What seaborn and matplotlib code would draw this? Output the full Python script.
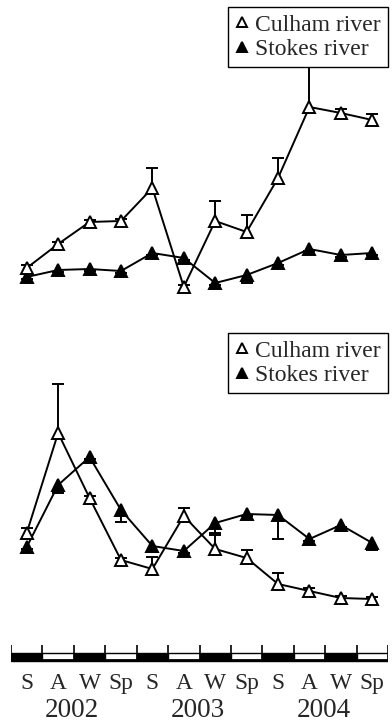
import numpy as np
import pandas as pd
import matplotlib
matplotlib.use("Agg")
import matplotlib.pyplot as plt
from matplotlib.lines import Line2D
import seaborn as sns

# ---- data -------------------------------------------------------------
seasons = ["S", "A", "W", "Sp", "S", "A", "W", "Sp", "S", "A", "W", "Sp"]
years = ["2002", "2003", "2004"]
rivers = ["Culham river", "Stokes river"]

# upper panel
top_culham = [3.2, 5.6, 7.8, 7.9, 11.2, 1.3, 7.9, 6.8, 12.2, 19.3, 18.7, 18.0]
top_culham_err = [0.3, 0.2, 0.2, 0.2, 2.0, 0.2, 2.0, 1.7, 2.0, 6.0, 0.4, 0.6]
top_stokes = [2.3, 3.0, 3.1, 2.9, 4.7, 4.2, 1.7, 2.5, 3.7, 5.1, 4.5, 4.7]
top_stokes_err = [0.2, 0.2, 0.2, 0.2, 0.2, 0.2, 0.2, 0.8, 0.2, 0.2, 0.2, 0.2]

# lower panel
bot_culham = [9.7, 19.7, 13.2, 7.0, 6.1, 11.4, 8.1, 7.2, 4.6, 3.9, 3.2, 3.1]
bot_culham_err = [0.5, 4.9, 0.2, 0.2, 1.2, 0.8, 1.4, 0.8, 1.1, 0.3, 0.2, 0.2]
bot_stokes = [8.3, 14.5, 17.3, 12.0, 8.4, 7.9, 10.7, 11.6, 11.5, 9.1, 10.5, 8.7]
bot_stokes_err = [0.2, 0.8, 0.2, 1.2, 0.6, 0.2, 1.0, 0.2, 2.4, 0.2, 0.2, 0.7]

# ---- style ------------------------------------------------------------
sns.set_style("white")
plt.rcParams["font.family"] = ["Liberation Serif", "DejaVu Serif"]

W, H = 392, 726
fig = plt.figure(figsize=(W / 100, H / 100), dpi=100)


def px_rect(x0, y0, x1, y1):
    return [x0 / W, 1 - y1 / H, (x1 - x0) / W, (y1 - y0) / H]


LW = 1.4
MS = 8.3
MEW = 1.4
CAP = 8.6


def panel(ax, culham, culham_err, stokes, stokes_err, legend_top):
    idx = np.arange(len(seasons))
    c = np.array(culham)
    ce = np.array(culham_err)
    s = np.array(stokes)
    se = np.array(stokes_err)
    # error bars: upward for Culham, downward for Stokes
    ax.vlines(idx, c, c + ce, color="black", lw=LW, zorder=2)
    ax.plot(idx, c + ce, ls="none", marker="_", ms=CAP, mew=LW, color="black", zorder=2)
    ax.vlines(idx, s - se, s, color="black", lw=LW, zorder=2)
    ax.plot(idx, s - se, ls="none", marker="_", ms=CAP, mew=LW, color="black", zorder=2)

    df = pd.DataFrame({"idx": np.concatenate([idx, idx]),
                       "value": np.concatenate([c, s]),
                       "river": [rivers[0]] * len(idx) + [rivers[1]] * len(idx)})
    sns.lineplot(data=df[df.river == rivers[0]], x="idx", y="value", ax=ax,
                 color="black", lw=LW, marker="^", ms=MS, mfc="white",
                 mec="black", mew=MEW, zorder=4, legend=False)
    sns.lineplot(data=df[df.river == rivers[1]], x="idx", y="value", ax=ax,
                 color="black", lw=LW, marker="^", ms=MS, mfc="black",
                 mec="black", mew=MEW, zorder=3, legend=False)
    ax.set_xlim(-0.5, 11.5)
    ax.set_ylim(0, 30)
    ax.axis("off")

    handles = [Line2D([], [], ls="none", marker="^", ms=7.2, mfc="white", mec="black", mew=1.4),
               Line2D([], [], ls="none", marker="^", ms=7.2, mfc="black", mec="black", mew=1.4)]
    leg = ax.legend(handles, rivers, loc="upper right", bbox_to_anchor=(1.0, legend_top),
                    borderaxespad=0, frameon=True, fancybox=False, framealpha=1,
                    edgecolor="black", facecolor="white", fontsize=17,
                    handlelength=0.6, handletextpad=0.25, labelspacing=0.12,
                    borderpad=0.3)
    leg.get_frame().set_linewidth(1.0)
    leg.set_zorder(10)


ax_top = fig.add_axes(px_rect(11, 0, 388, 300))
panel(ax_top, top_culham, top_culham_err, top_stokes, top_stokes_err, 1 - 7 / 300)

ax_bot = fig.add_axes(px_rect(11, 330, 388, 630))
panel(ax_bot, bot_culham, bot_culham_err, bot_stokes, bot_stokes_err, 1 - 3 / 300)

# ---- season timeline --------------------------------------------------
ax_t = fig.add_axes(px_rect(11, 640, 388, 665))
ax_t.set_xlim(-0.5, 11.5)
ax_t.set_ylim(-25, 0)
ax_t.axis("off")
idx = np.arange(len(seasons))
fills = ["black" if s in ("S", "W") else "white" for s in seasons]
ax_t.bar(idx, 7.5, width=1.0, bottom=-20.5, color=fills, edgecolor="black", lw=1.0)
ax_t.hlines(-20.0, -0.5, 11.5, color="black", lw=2.0)
ax_t.vlines(np.arange(-0.5, 12.0, 1.0), -20.5, -5, color="black", lw=1.2)
for i, s in enumerate(seasons):
    ax_t.text(i, -49, s, ha="center", va="baseline", fontsize=16.8, clip_on=False)
for k, y in enumerate(years):
    ax_t.text(1.45 + 4 * k, -77, y, ha="center", va="baseline", fontsize=19.5, clip_on=False)

fig.savefig("out.png", dpi=100)
